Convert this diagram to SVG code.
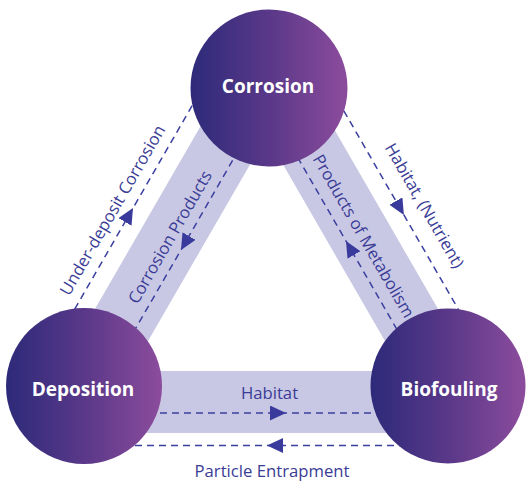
<svg xmlns="http://www.w3.org/2000/svg" width="532" height="481" viewBox="0 0 532 481">
  <defs>
    <linearGradient id="nodeGrad" x1="0" y1="0" x2="1" y2="0">
      <stop offset="0" stop-color="#2d2a79"/>
      <stop offset="0.5" stop-color="#5a3889"/>
      <stop offset="1" stop-color="#8c4c9c"/>
    </linearGradient>
    <marker id="arrow" markerUnits="userSpaceOnUse" markerWidth="16" markerHeight="16" refX="8" refY="7.5" orient="auto">
      <path d="M0,0 L16,7.5 L0,15 z" fill="#3a3a9c"/>
    </marker>
    <style>
      .band { fill: none; stroke: #c9c8e4; stroke-width: 62; stroke-linejoin: round; }
      .conn { fill: none; stroke: #3b3f9f; stroke-width: 1.5; stroke-dasharray: 7 5; marker-mid: url(#arrow); }
      .node { fill: url(#nodeGrad); }
      .nlabel { font-family: "Open Sans", "Noto Sans", sans-serif; font-weight: 700; font-size: 19px; fill: #ffffff; text-anchor: middle; }
      .elabel { font-family: "Open Sans", "Noto Sans", sans-serif; font-weight: 400; font-size: 16.7px; fill: #3a3c96; text-anchor: middle; }
    </style>
  </defs>

  <g id="band">
    <polygon class="band" points="266.5,74 77,402 456,402"/>
  </g>

  <g id="connectors">
    <path id="c-under-deposit" class="conn" d="M62.7,330 L129,215 L201.2,90"/>
    <path id="c-corrosion-products" class="conn" d="M238.6,150 L185,243 L128.9,340"/>
    <path id="c-habitat-nutrient" class="conn" d="M331.8,90 L399.9,208 L476,340"/>
    <path id="c-metabolism" class="conn" d="M403,340 L350,248 L293.4,150"/>
    <path id="c-habitat" class="conn" d="M100,413 L278,413 L430,413"/>
    <path id="c-entrapment" class="conn" d="M430,445.5 L275,445.5 L100,445.5"/>
  </g>

  <g id="node-corrosion">
    <circle class="node" cx="269" cy="88" r="78.5"/>
    <text class="nlabel" x="268" y="93">Corrosion</text>
  </g>
  <g id="node-deposition">
    <circle class="node" cx="84" cy="386" r="78"/>
    <text class="nlabel" x="83" y="396">Deposition</text>
  </g>
  <g id="node-biofouling">
    <circle class="node" cx="448" cy="386" r="77.5"/>
    <text class="nlabel" x="449" y="396">Biofouling</text>
  </g>

  <g id="labels">
    <text class="elabel" transform="translate(117.5,213) rotate(-60)">Under-deposit Corrosion</text>
    <text class="elabel" transform="translate(175,240) rotate(-60)">Corrosion Products</text>
    <text class="elabel" transform="translate(419.5,208.5) rotate(60)">Habitat, (Nutrient)</text>
    <text class="elabel" transform="translate(358.6,238.9) rotate(60)">Products of Metabolism</text>
    <text class="elabel" x="269.5" y="399.3">Habitat</text>
    <text class="elabel" x="272" y="477">Particle Entrapment</text>
  </g>
</svg>
